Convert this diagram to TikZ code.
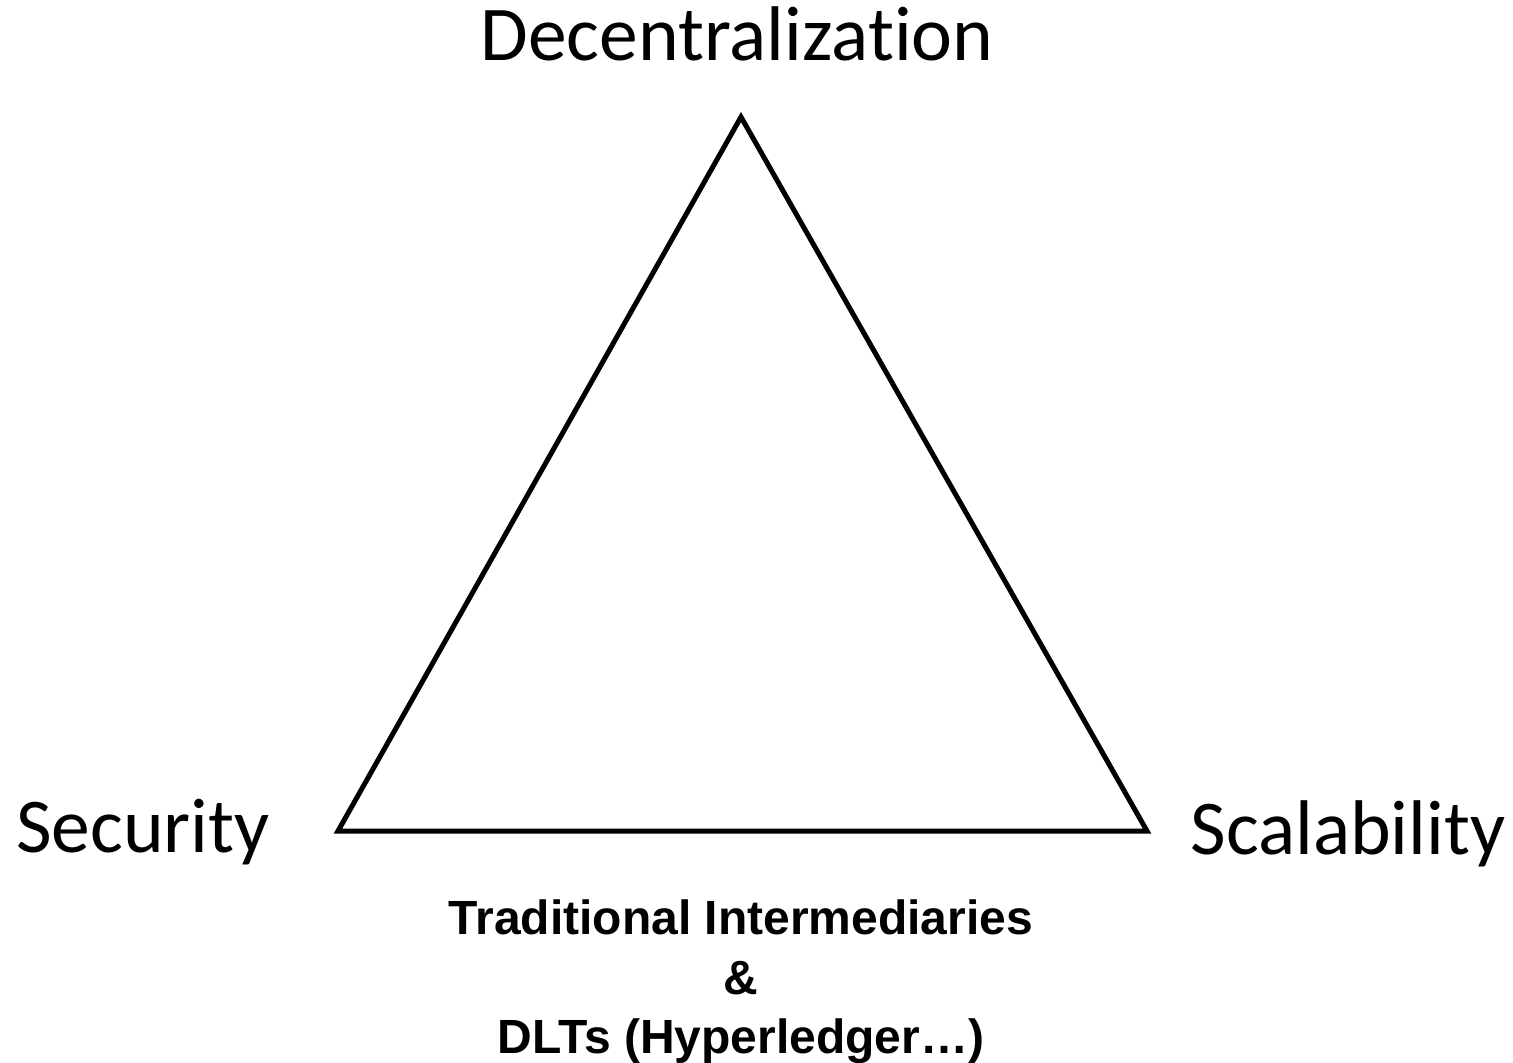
\documentclass[tikz,border=0pt]{standalone}
\usepackage{fontspec}
\setmainfont[Ligatures=CommonOff]{Carlito}
\newfontfamily\boldsans{Liberation Sans}
\begin{document}
\begin{tikzpicture}[x=1pt,y=-1pt,
  corner/.style={anchor=base,inner sep=0pt,font=\fontsize{77.5}{90}\selectfont},
  note/.style={anchor=base,inner sep=0pt,font=\boldsans\bfseries\fontsize{48}{56}\selectfont}]
  \useasboundingbox[fill=white] (0,0) rectangle (1513,1063);
  % vertices of the trilemma triangle
  \coordinate (top) at (741,117);
  \coordinate (left) at (338,831);
  \coordinate (right) at (1147,831);
  \draw[line width=5pt,line join=miter] (top) -- (right) -- (left) -- cycle;
  % corner labels
  \node[corner] (dec) at (737,60) {Decentralization};
  \node[corner] (sec) at (143,852) {Security};
  \node[corner] (sca) at (1348,854) {Scalability};
  % note under the base
  \node[note] (l1) at (741,934) {Traditional Intermediaries};
  \node[note] (l2) at (741,994) {\&};
  \node[note] (l3) at (741,1053) {DLTs (Hyperledger…)};
\end{tikzpicture}
\end{document}
